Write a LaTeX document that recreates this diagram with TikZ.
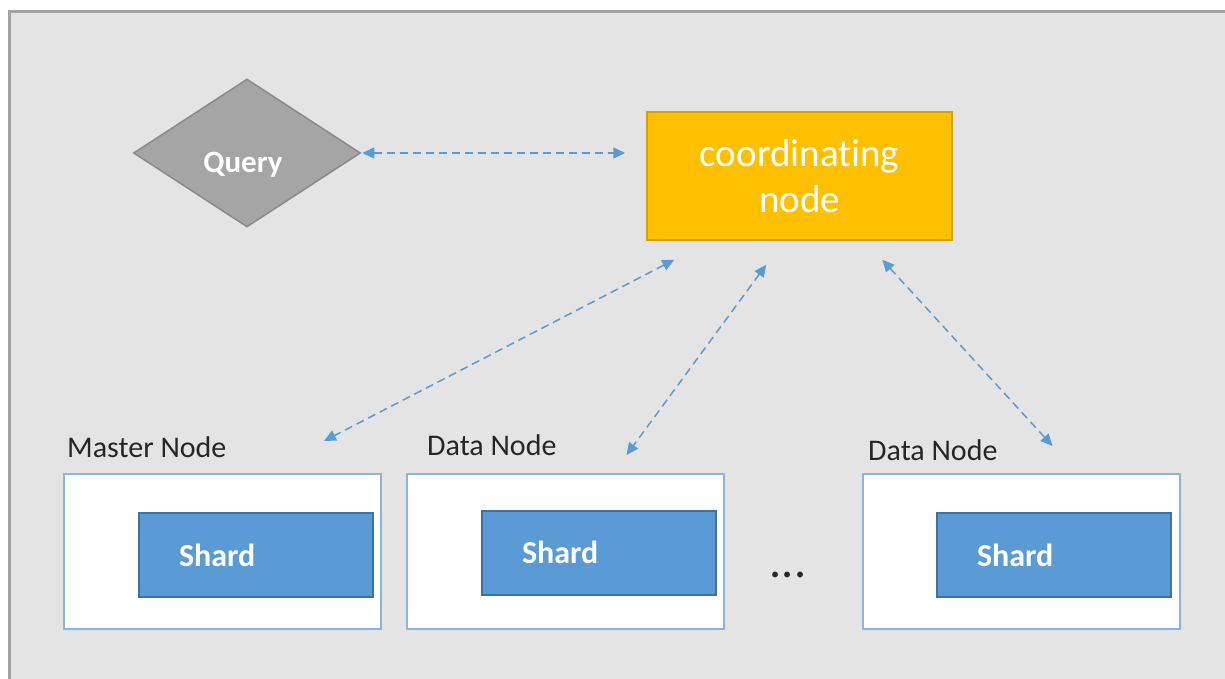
\documentclass[tikz,border=0pt]{standalone}
\usepackage{fontspec}
\setmainfont{Carlito}[Ligatures=NoCommon]
\usetikzlibrary{shapes.geometric,arrows.meta,calc}

\definecolor{panelbg}{HTML}{E4E4E4}
\definecolor{panelrim}{HTML}{A3A3A3}
\definecolor{querygray}{HTML}{A5A5A5}
\definecolor{queryrim}{HTML}{8A8A8A}
\definecolor{coordfill}{HTML}{FFC000}
\definecolor{coordrim}{HTML}{D1A10C}
\definecolor{linkblue}{HTML}{5B9BD5}
\definecolor{boxrim}{HTML}{8CB4E0}
\definecolor{shardfill}{HTML}{5B9BD5}
\definecolor{shardrim}{HTML}{41719C}
\definecolor{labelink}{HTML}{262626}

\tikzset{
  querynode/.style={diamond, fill=querygray, draw=queryrim, line width=1.5pt,
    minimum width=227pt, minimum height=148pt, inner sep=0pt},
  querytext/.style={text=white, font=\fontsize{31}{36}\selectfont\bfseries, anchor=base},
  coordbox/.style={rectangle, fill=coordfill, draw=coordrim, line width=1.5pt,
    minimum width=305pt, minimum height=128pt, inner sep=0pt, align=center,
    text=white, font=\fontsize{39}{46}\selectfont},
  hostbox/.style={rectangle, fill=white, draw=boxrim, line width=2pt,
    minimum width=317pt, minimum height=155pt, inner sep=0pt},
  shardbox/.style={rectangle, fill=shardfill, draw=shardrim, line width=2pt,
    minimum width=234pt, minimum height=84pt, inner xsep=0pt, inner ysep=0pt,
    text width=154pt, align=left, text=white,
    font=\fontsize{32}{38}\selectfont\bfseries},
  hostlabel/.style={anchor=base west, inner sep=0pt, text=labelink,
    font=\fontsize{30}{35}\selectfont},
  link/.style={linkblue, line width=1.5pt, dash pattern=on 8pt off 5pt,
    {Triangle[length=12pt,width=11pt]}-{Triangle[length=12pt,width=11pt]}},
}

\begin{document}
\begin{tikzpicture}[x=1pt, y=-1pt]
  % canvas and grey panel
  \useasboundingbox (0,0) rectangle (1225,679);
  \fill[white] (0,0) rectangle (1225,679);
  \draw[panelrim, fill=panelbg, line width=3pt] (9.5,11.5) rectangle (1240,700);

  % query and coordinating node
  \node[querynode] (query) at (247,153) {};
  \node[querytext] (querylbl) at (243,172) {Query};
  \node[coordbox] (coord) at (799.5,176) {coordinating\\node};

  % cluster members
  \node[hostbox] (master) at (222.5,551.5) {};
  \node[hostbox] (data1)  at (565,551.5) {};
  \node[hostbox] (data2)  at (1021,551.5) {};

  \node[shardbox] (shard0) at (256,555) {Shard};
  \node[shardbox] (shard1) at (599,552.5) {Shard};
  \node[shardbox] (shard2) at (1054,555) {Shard};

  \node[hostlabel] (mlabel)  at (67,457)  {Master Node};
  \node[hostlabel] (d1label) at (427,455) {Data Node};
  \node[hostlabel] (d2label) at (868,460) {Data Node};

  \node[anchor=base, inner sep=0pt, text=labelink,
        font=\fontsize{48}{56}\selectfont] (more) at (788,577) {...};

  % link end points around the nodes
  \coordinate (cq) at (query.east -| coord.west);
  \coordinate (cm) at ($(coord.south west)+(28,19)$);
  \coordinate (cd1) at ($(coord.south west)+(120,24)$);
  \coordinate (cd2) at ($(coord.south west)+(236,19)$);
  \coordinate (mm) at ($(master.north east)+(-58,-32)$);
  \coordinate (dd1) at ($(data1.north west)+(221,-18)$);
  \coordinate (dd2) at ($(data2.north west)+(191,-27)$);

  % dashed request links
  \draw[link, shorten <=1pt, shorten >=21pt] (query.east) -- (cq);
  \draw[link] (cm) -- (mm);
  \draw[link] (cd1) -- (dd1);
  \draw[link] (cd2) -- (dd2);
\end{tikzpicture}
\end{document}
